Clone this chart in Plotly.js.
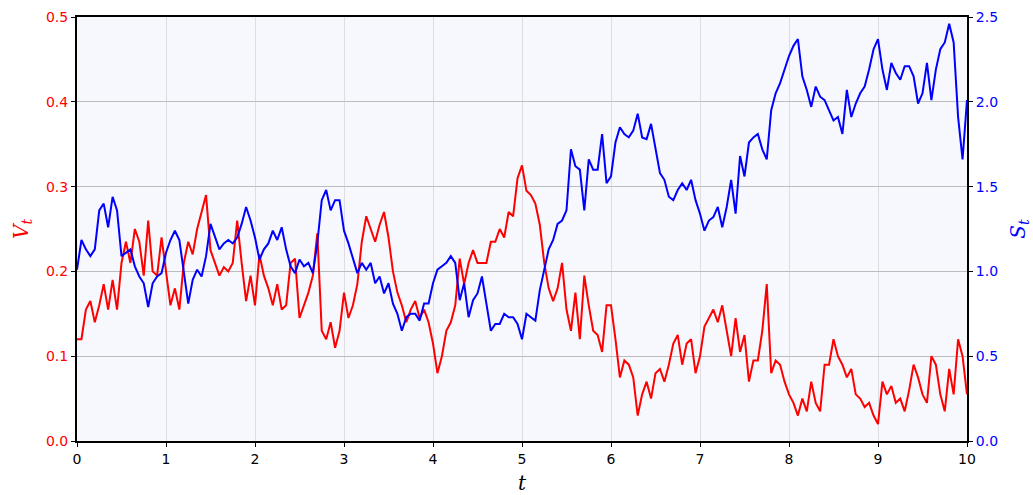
<!DOCTYPE html>
<html>
<head>
<meta charset="utf-8">
<script src="https://cdn.plot.ly/plotly-3.0.1.min.js"></script>
<style>
  html, body { margin: 0; padding: 0; background: #ffffff; }
  #chart { width: 1033px; height: 495px; }
</style>
</head>
<body>
<div id="chart"></div>
<script>
// time grid (t), step 0.05
const t = [
  0.00,0.05,0.10,0.15,0.20,0.25,0.30,0.35,0.40,0.45,
  0.50,0.55,0.60,0.65,0.70,0.75,0.80,0.85,0.90,0.95,
  1.00,1.05,1.10,1.15,1.20,1.25,1.30,1.35,1.40,1.45,
  1.50,1.55,1.60,1.65,1.70,1.75,1.80,1.85,1.90,1.95,
  2.00,2.05,2.10,2.15,2.20,2.25,2.30,2.35,2.40,2.45,
  2.50,2.55,2.60,2.65,2.70,2.75,2.80,2.85,2.90,2.95,
  3.00,3.05,3.10,3.15,3.20,3.25,3.30,3.35,3.40,3.45,
  3.50,3.55,3.60,3.65,3.70,3.75,3.80,3.85,3.90,3.95,
  4.00,4.05,4.10,4.15,4.20,4.25,4.30,4.35,4.40,4.45,
  4.50,4.55,4.60,4.65,4.70,4.75,4.80,4.85,4.90,4.95,
  5.00,5.05,5.10,5.15,5.20,5.25,5.30,5.35,5.40,5.45,
  5.50,5.55,5.60,5.65,5.70,5.75,5.80,5.85,5.90,5.95,
  6.00,6.05,6.10,6.15,6.20,6.25,6.30,6.35,6.40,6.45,
  6.50,6.55,6.60,6.65,6.70,6.75,6.80,6.85,6.90,6.95,
  7.00,7.05,7.10,7.15,7.20,7.25,7.30,7.35,7.40,7.45,
  7.50,7.55,7.60,7.65,7.70,7.75,7.80,7.85,7.90,7.95,
  8.00,8.05,8.10,8.15,8.20,8.25,8.30,8.35,8.40,8.45,
  8.50,8.55,8.60,8.65,8.70,8.75,8.80,8.85,8.90,8.95,
  9.00,9.05,9.10,9.15,9.20,9.25,9.30,9.35,9.40,9.45,
  9.50,9.55,9.60,9.65,9.70,9.75,9.80,9.85,9.90,9.95,
  10.00
];

// variance process V_t (left axis)
const V = [
  0.12,0.12,0.155,0.165,0.14,0.16,0.185,0.155,0.19,0.155,
  0.21,0.235,0.21,0.25,0.235,0.195,0.26,0.20,0.195,0.24,
  0.20,0.16,0.18,0.155,0.21,0.235,0.22,0.25,0.27,0.29,
  0.225,0.21,0.195,0.205,0.20,0.21,0.26,0.21,0.165,0.195,
  0.16,0.22,0.195,0.18,0.16,0.185,0.155,0.16,0.21,0.215,
  0.145,0.16,0.175,0.195,0.245,0.13,0.12,0.14,0.11,0.13,
  0.175,0.145,0.16,0.185,0.235,0.265,0.25,0.235,0.255,0.27,
  0.24,0.20,0.175,0.16,0.14,0.155,0.165,0.145,0.155,0.14,
  0.115,0.08,0.10,0.13,0.14,0.16,0.215,0.185,0.21,0.225,
  0.21,0.21,0.21,0.235,0.235,0.25,0.24,0.27,0.265,0.31,
  0.325,0.295,0.29,0.28,0.255,0.21,0.18,0.165,0.18,0.21,
  0.155,0.13,0.175,0.12,0.195,0.16,0.13,0.125,0.105,0.16,
  0.16,0.12,0.075,0.095,0.09,0.075,0.03,0.055,0.07,0.05,
  0.08,0.085,0.07,0.09,0.115,0.125,0.09,0.115,0.12,0.08,
  0.10,0.135,0.145,0.155,0.14,0.16,0.13,0.10,0.145,0.105,
  0.125,0.07,0.095,0.095,0.13,0.185,0.08,0.095,0.09,0.07,
  0.055,0.045,0.03,0.05,0.035,0.07,0.045,0.035,0.09,0.09,
  0.12,0.10,0.09,0.075,0.085,0.055,0.05,0.04,0.045,0.03,
  0.02,0.07,0.055,0.065,0.045,0.05,0.035,0.06,0.09,0.075,
  0.055,0.045,0.10,0.09,0.055,0.035,0.085,0.055,0.12,0.10,
  0.055
];

// price process S_t (right axis)
const S = [
  1.01,1.185,1.13,1.09,1.13,1.36,1.40,1.26,1.44,1.36,
  1.09,1.11,1.13,1.03,0.97,0.93,0.79,0.93,0.97,0.99,
  1.11,1.185,1.24,1.185,0.99,0.81,0.95,1.01,0.97,1.09,
  1.28,1.20,1.13,1.165,1.185,1.165,1.20,1.28,1.38,1.30,
  1.20,1.07,1.13,1.165,1.24,1.185,1.26,1.13,1.03,0.99,
  1.07,1.03,1.05,0.99,1.165,1.42,1.48,1.36,1.42,1.42,
  1.24,1.165,1.07,0.99,1.05,1.01,1.05,0.93,0.97,0.87,
  0.93,0.81,0.75,0.65,0.73,0.75,0.75,0.71,0.81,0.81,
  0.93,1.01,1.03,1.05,1.09,1.05,0.83,0.93,0.73,0.83,
  0.87,0.97,0.81,0.65,0.69,0.69,0.75,0.73,0.73,0.69,
  0.60,0.75,0.73,0.71,0.89,1.01,1.13,1.185,1.28,1.30,
  1.36,1.72,1.62,1.60,1.36,1.66,1.60,1.60,1.81,1.52,
  1.56,1.76,1.85,1.81,1.79,1.83,1.93,1.79,1.78,1.87,
  1.72,1.58,1.54,1.44,1.42,1.48,1.52,1.48,1.54,1.42,
  1.34,1.24,1.30,1.32,1.38,1.26,1.38,1.54,1.34,1.68,
  1.56,1.76,1.79,1.81,1.72,1.66,1.95,2.05,2.11,2.19,
  2.27,2.33,2.37,2.15,2.07,1.97,2.09,2.03,2.01,1.95,
  1.89,1.91,1.81,2.07,1.91,1.99,2.05,2.09,2.19,2.31,
  2.37,2.19,2.07,2.23,2.17,2.13,2.21,2.21,2.15,1.99,
  2.05,2.23,2.01,2.19,2.31,2.35,2.46,2.35,1.91,1.66,
  2.01
];

const xTicks = [0,1,2,3,4,5,6,7,8,9,10];
const vTicks = [0.0,0.1,0.2,0.3,0.4,0.5];
const sTicks = [0.0,0.5,1.0,1.5,2.0,2.5];

const tickFont = {family: 'DejaVu Sans, sans-serif', size: 14};
const mathFont = {family: 'DejaVu Serif, serif', size: 20};

const traces = [
  {x: t, y: V, type: 'scatter', mode: 'lines', yaxis: 'y',
   line: {color: '#ff0000', width: 2}, hoverinfo: 'skip', showlegend: false},
  {x: t, y: S, type: 'scatter', mode: 'lines', yaxis: 'y2',
   line: {color: '#0000ff', width: 2}, hoverinfo: 'skip', showlegend: false}
];

const layout = {
  width: 1033, height: 495,
  margin: {l: 77, r: 66, t: 17, b: 54, pad: 0},
  paper_bgcolor: '#ffffff',
  plot_bgcolor: '#f7f8fe',
  showlegend: false,
  xaxis: {
    range: [0, 10], tickvals: xTicks, ticktext: xTicks.map(String),
    showgrid: true, gridcolor: '#dcdce2', gridwidth: 1,
    zeroline: false,
    showline: true, mirror: true, linecolor: '#000000', linewidth: 2,
    ticks: 'outside', ticklen: 4, tickwidth: 1, tickcolor: '#000000',
    tickfont: Object.assign({}, tickFont, {color: '#000000'}),
    title: {text: '<i>t</i>', font: Object.assign({}, mathFont, {color: '#000000'}), standoff: 13}
  },
  yaxis: {
    range: [0, 0.5], tickvals: vTicks, ticktext: vTicks.map(v => v.toFixed(1)),
    showgrid: true, gridcolor: '#bcbcbc', gridwidth: 1,
    zeroline: false,
    showline: true, mirror: true, linecolor: '#000000', linewidth: 2,
    ticks: 'outside', ticklen: 4, tickwidth: 1, tickcolor: '#000000',
    tickfont: Object.assign({}, tickFont, {color: '#ff0000'}),
    title: {text: '<i>V<sub>t</sub></i>', font: Object.assign({}, mathFont, {color: '#ff0000'}), standoff: 12}
  },
  yaxis2: {
    range: [0, 2.5], tickvals: sTicks, ticktext: sTicks.map(v => v.toFixed(1)),
    overlaying: 'y', side: 'right',
    showgrid: false, zeroline: false,
    showline: true, linecolor: '#000000', linewidth: 2,
    ticks: 'outside', ticklen: 4, tickwidth: 1, tickcolor: '#000000',
    tickfont: Object.assign({}, tickFont, {color: '#0000ff'}),
    title: {text: '<i>S<sub>t</sub></i>', font: Object.assign({}, mathFont, {color: '#0000ff'}), standoff: 14}
  }
};

Plotly.newPlot('chart', traces, layout, {staticPlot: true, displayModeBar: false});
</script>
</body>
</html>
